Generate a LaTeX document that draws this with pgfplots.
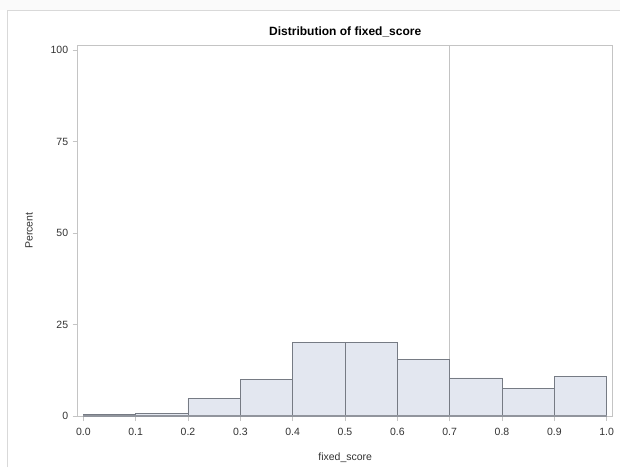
\documentclass[border=0pt]{standalone}
\usepackage{fontspec}
\setmainfont{Liberation Sans}
\usepackage{pgfplots}
\pgfplotsset{compat=1.18}
\definecolor{barfill}{HTML}{E3E7F0}
\definecolor{baredge}{HTML}{767B84}
\definecolor{frame}{HTML}{C4C4C4}
\definecolor{txt}{HTML}{333333}
\begin{document}
\begin{tikzpicture}[x=1pt,y=1pt]
\path[use as bounding box] (0,0) rectangle (620,467);
\fill[white] (0,0) rectangle (620,467);
\fill[black!2] (0,457) rectangle (620,467);
\draw[black!15, line width=0.8pt] (7,0) -- (7,457) -- (620,457);
\begin{axis}[
  at={(77.7pt,51pt)}, anchor=south west,
  scale only axis, width=535pt, height=371pt,
  xmin=-0.0107, xmax=1.0115, ymin=0, ymax=101.4,
  axis line style={frame, line width=0.8pt},
  xtick={0,0.1,...,1.0},
  ytick={0,25,50,75,100},
  tick style={frame, line width=0.8pt},
  major tick length=5pt,
  tick align=outside, xtick pos=bottom, ytick pos=left,
  /pgf/number format/assume math mode=true,
  xticklabel style={yshift=-4pt, /pgf/number format/fixed, /pgf/number format/fixed zerofill, /pgf/number format/precision=1},
  yticklabel style={xshift=-1pt},
  ticklabel style={font=\fontsize{10.5}{12}\selectfont, text=txt},
  title={\bfseries Distribution of fixed\_score},
  title style={font=\fontsize{12}{14}\selectfont, at={(0.5,1)}, anchor=south, yshift=-1pt},
  xlabel={fixed\_score}, ylabel={Percent},
  label style={font=\fontsize{10.5}{12}\selectfont, text=txt},
  xlabel style={yshift=-10pt},
  ylabel style={yshift=11pt},
  clip=false,
]
\addplot[frame, line width=0.9pt] coordinates {(0.7,-1.5) (0.7,101.4)};
\addplot[ybar interval, fill=barfill, draw=baredge, line width=0.9pt] coordinates {
(0.0,0.3) (0.1,0.7) (0.2,4.8) (0.3,10.0) (0.4,20.0) (0.5,20.1) (0.6,15.4) (0.7,10.4) (0.8,7.6) (0.9,10.7) (1.0,10.7)};
\addplot[baredge!80, line width=1.2pt] coordinates {(0,0) (1,0)};
\end{axis}
\end{tikzpicture}
\end{document}
